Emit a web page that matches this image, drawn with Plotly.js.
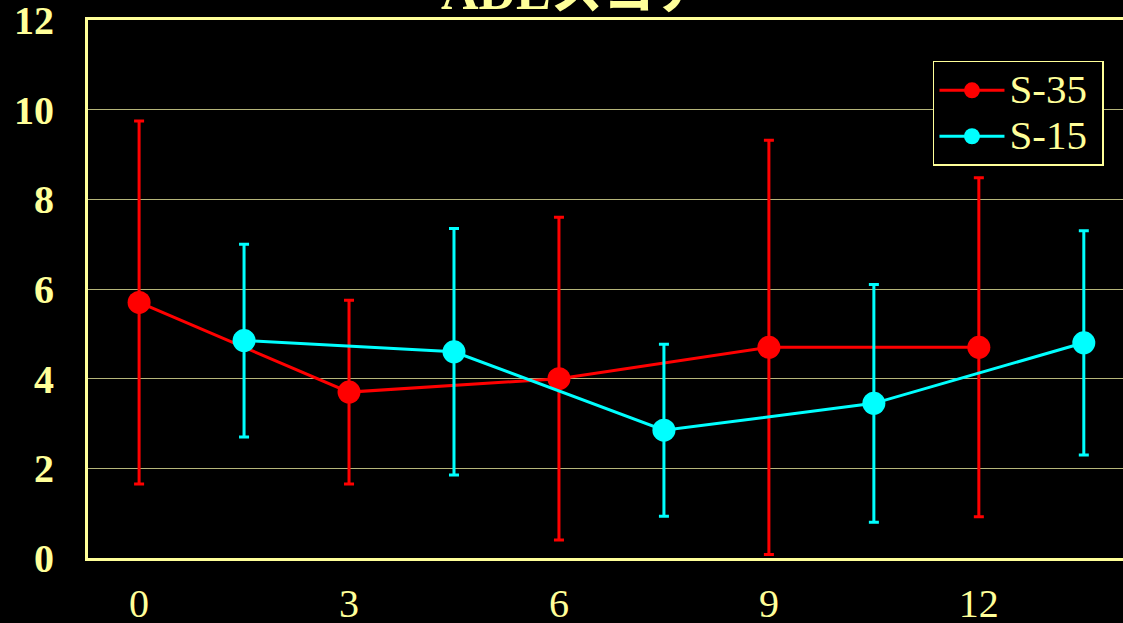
<!DOCTYPE html>
<html>
<head>
<meta charset="utf-8">
<script src="https://cdn.plot.ly/plotly-3.0.1.min.js"></script>
<style>html,body{margin:0;padding:0;background:#000;}#chart{width:1123px;height:623px;}</style>
</head>
<body>
<div id="chart"></div>
<script>
// Data
const xS35 = [0, 3, 6, 9, 12];
const yS35 = [5.7, 3.7, 4.0, 4.7, 4.7];
const eS35 = [4.05, 2.05, 3.6, 4.62, 3.78];
const xS15 = [1.5, 4.5, 7.5, 10.5, 13.5];
const yS15 = [4.85, 4.6, 2.85, 3.45, 4.8];
const eS15 = [2.15, 2.75, 1.92, 2.65, 2.5];
const xTicks = [0, 3, 6, 9, 12];
const yTicks = [0, 2, 4, 6, 8, 10, 12];
const seriesNames = ['S-35', 'S-15'];
const titleText = 'ADLスコア';

const yellow = '#FFFF99';
const serif = '"Liberation Serif", "Times New Roman", "Noto Sans CJK JP", serif';
const legName = n => '<span style="font-size:41px">' + n + '&nbsp;</span>';

const traces = [
  {
    x: xS35, y: yS35, name: legName(seriesNames[0]), type: 'scatter', mode: 'lines+markers',
    line: {color: '#FF0000', width: 3},
    marker: {color: '#FF0000', size: 23},
    error_y: {type: 'data', array: eS35, visible: true, color: '#FF0000', thickness: 3, width: 5}
  },
  {
    x: xS15, y: yS15, name: legName(seriesNames[1]), type: 'scatter', mode: 'lines+markers',
    line: {color: '#00FFFF', width: 3},
    marker: {color: '#00FFFF', size: 23},
    error_y: {type: 'data', array: eS15, visible: true, color: '#00FFFF', thickness: 3, width: 5}
  }
];

const layout = {
  width: 1123, height: 623,
  paper_bgcolor: '#000', plot_bgcolor: '#000',
  margin: {l: 88, r: 0, t: 20, b: 65, pad: 0},
  title: {
    text: '<b>' + titleText + '</b>',
    font: {family: serif, size: 52, color: yellow},
    x: 0.511, xanchor: 'center', xref: 'container',
    y: 0.986, yanchor: 'bottom', yref: 'container'
  },
  xaxis: {
    range: [-0.73, 14.06],
    tickvals: xTicks, ticktext: xTicks.map(String),
    showgrid: false, zeroline: false,
    showline: true, linecolor: yellow, linewidth: 3, mirror: true,
    ticks: 'outside', ticklen: 8, tickcolor: 'rgba(0,0,0,0)',
    tickfont: {family: serif, size: 40, color: yellow},
    ticklabeloverflow: 'allow'
  },
  yaxis: {
    range: [0, 12],
    tickvals: yTicks,
    showgrid: true, gridcolor: '#B5B57A', gridwidth: 1,
    zeroline: false,
    showline: true, linecolor: yellow, linewidth: 3, mirror: false,
    ticks: 'outside', ticklen: 23, tickcolor: 'rgba(0,0,0,0)',
    tickfont: {family: serif, size: 40, color: yellow, weight: 'bold'},
    ticklabeloverflow: 'allow'
  },
  showlegend: true,
  legend: {
    x: 0.8164, y: 0.924, xanchor: 'left', yanchor: 'top',
    bgcolor: '#000', bordercolor: yellow, borderwidth: 1.5,
    font: {family: serif, size: 33, color: yellow},
    itemwidth: 65
  }
};

Plotly.newPlot('chart', traces, layout, {displayModeBar: false, staticPlot: true});
</script>
</body>
</html>
